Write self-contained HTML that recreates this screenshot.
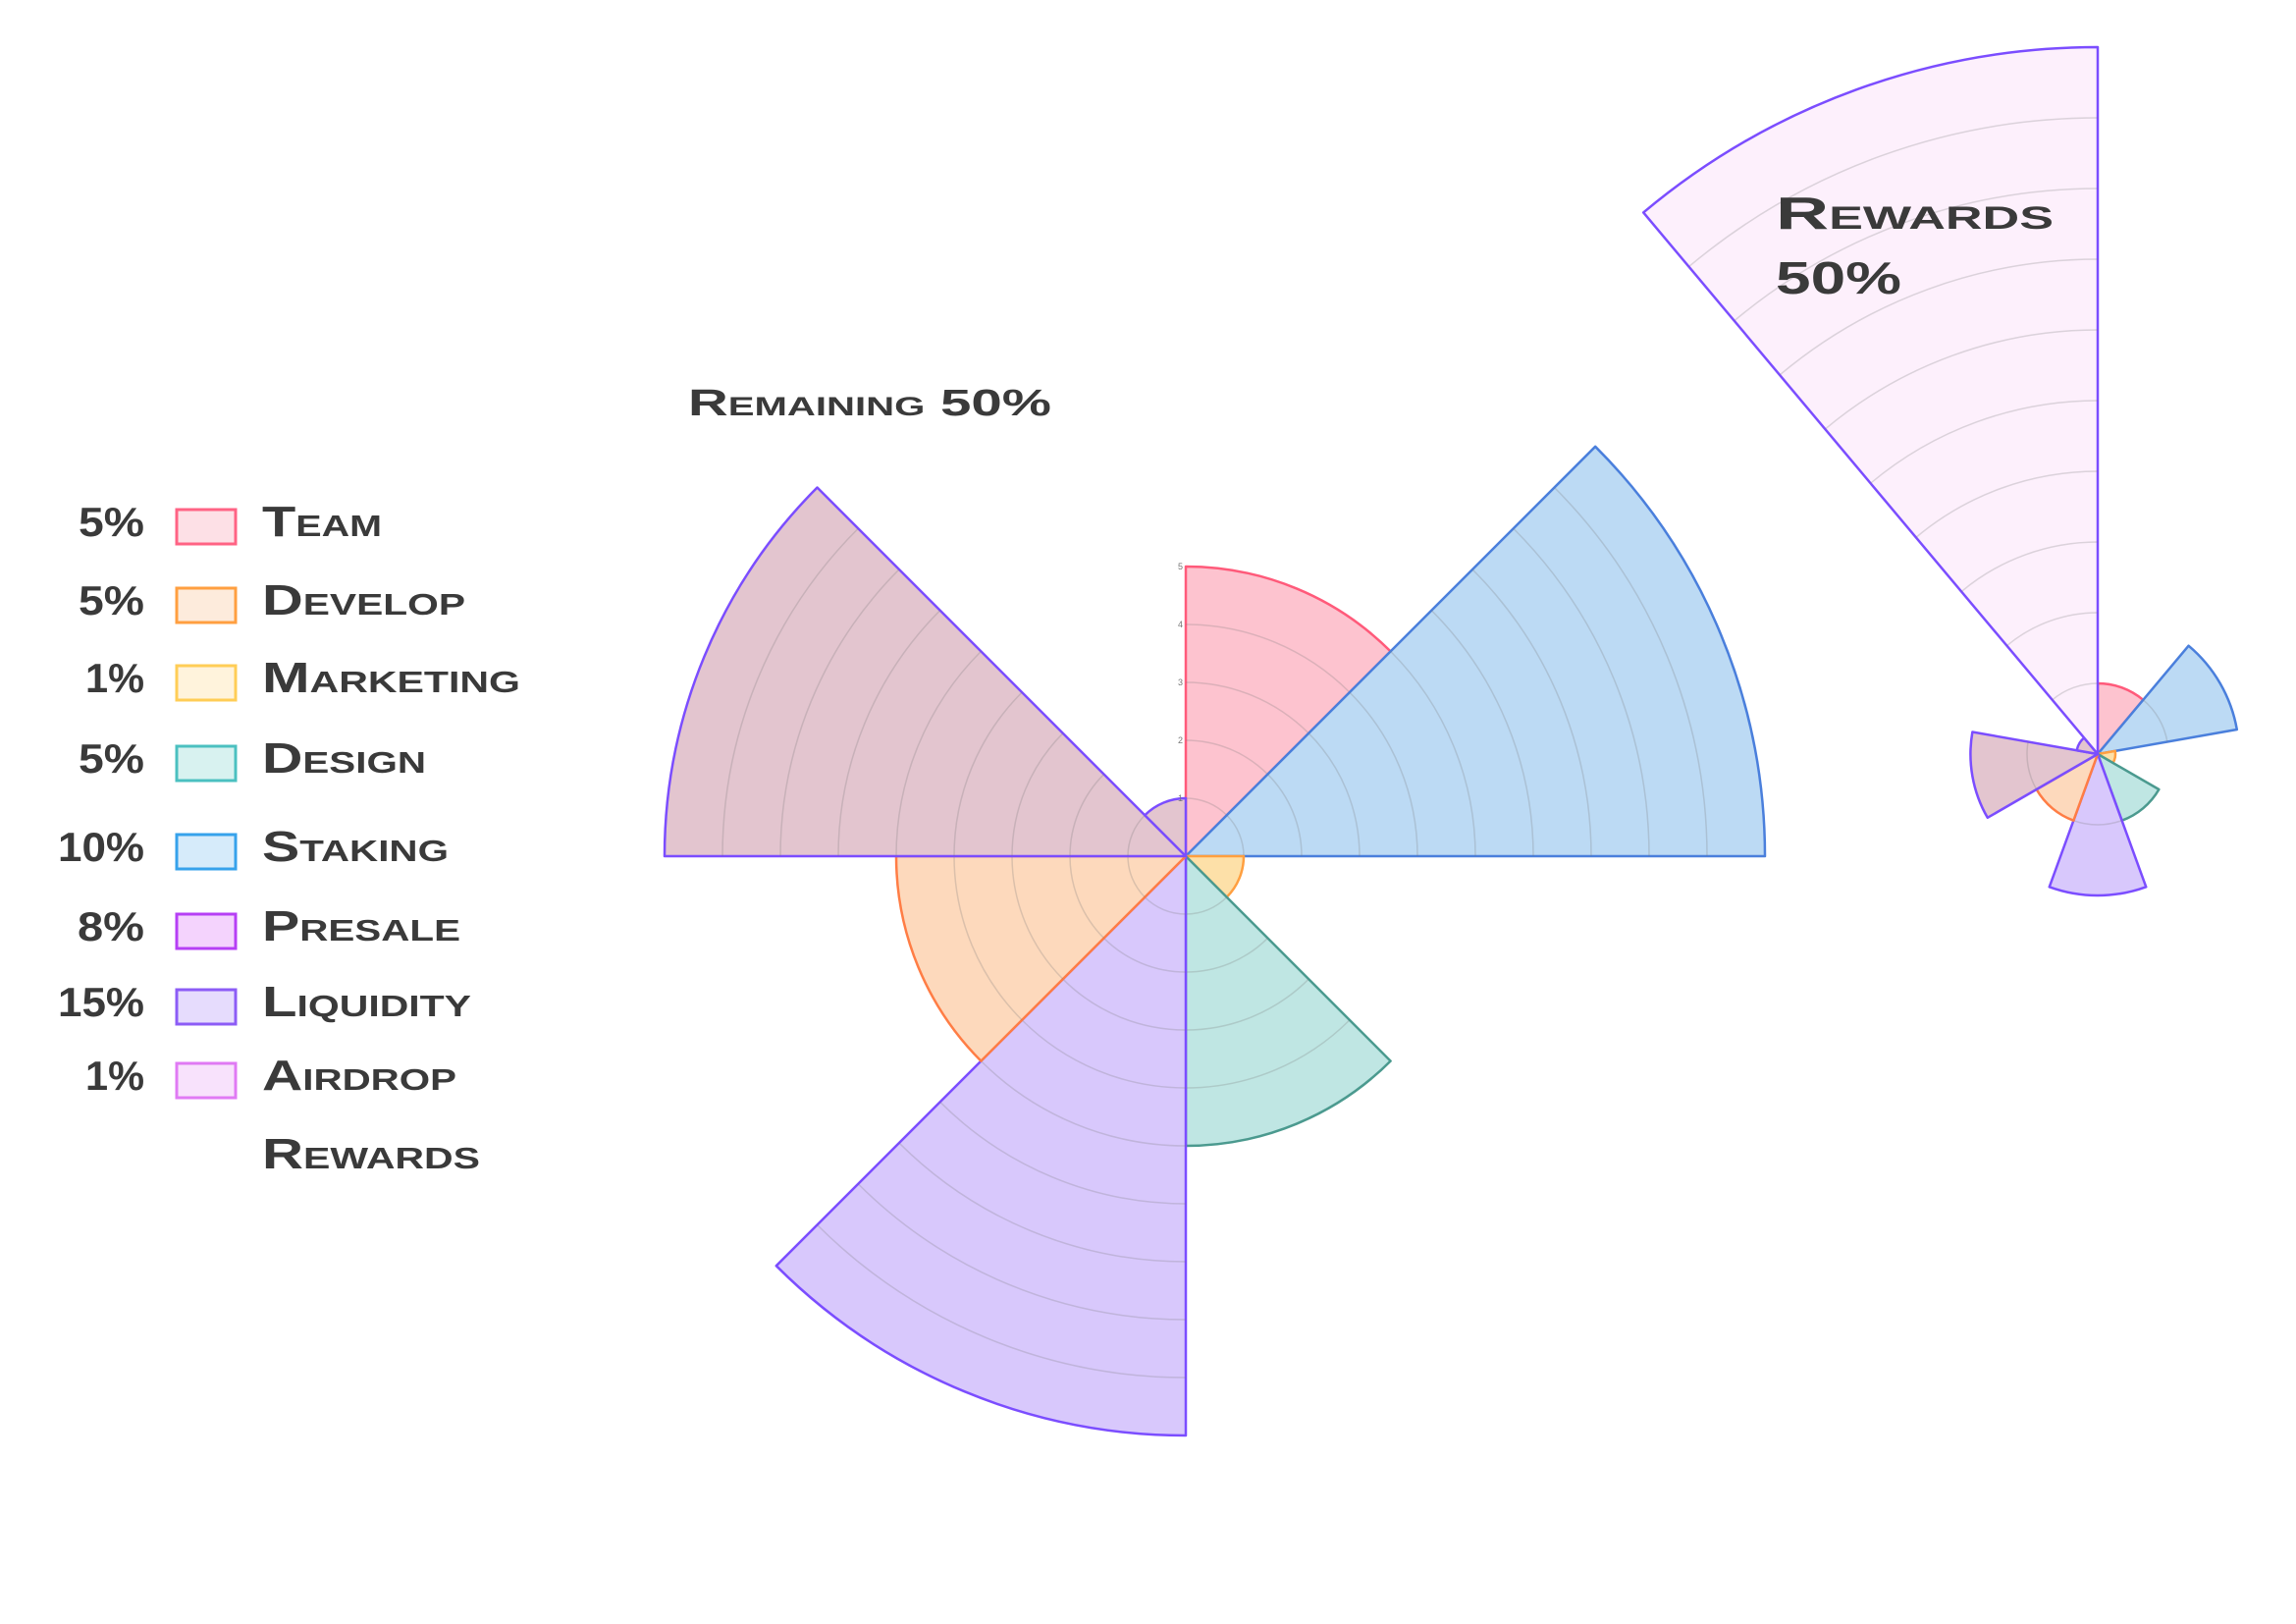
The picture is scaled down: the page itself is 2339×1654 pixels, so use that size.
<!DOCTYPE html>
<html><head><meta charset="utf-8">
<style>
html,body{margin:0;padding:0;background:#fff;}
svg{display:block;}
text{font-family:"Liberation Sans",sans-serif;font-weight:bold;font-variant:small-caps;fill:#3a3a3a;}
</style></head>
<body>
<svg id="chart" width="2339" height="1654" viewBox="0 0 2339 1654" xmlns="http://www.w3.org/2000/svg">
<g id="main"></g>
<g id="side"></g>
<g id="legend"></g>
<text x="701" y="423" font-size="38" textLength="370" lengthAdjust="spacingAndGlyphs">Remaining 50%</text>
<text x="1809" y="233" font-size="46" textLength="283" lengthAdjust="spacingAndGlyphs">Rewards</text>
<text x="1809" y="299" font-size="46" textLength="128" lengthAdjust="spacingAndGlyphs">50%</text>
</svg>
<script>
// main chart data
const mainCats = ["Team","Staking","Marketing","Design","Liquidity","Develop","Presale","Airdrop"];
const mainValues = [5,10,1,5,10,5,9,1];
const mainTicks = ["1","2","3","4","5"];
// side chart data
const sideCats = ["Team","Staking","Marketing","Design","Liquidity","Develop","Presale","Airdrop","Rewards"];
const sideValues = [1,2,0.25,1,2,1,1.8,0.3,10];
// legend data
const legendPercents = ["5%","5%","1%","5%","10%","8%","15%","1%",""];
const legendLabels = ["Team","Develop","Marketing","Design","Staking","Presale","Liquidity","Airdrop","Rewards"];

const styles = {
 Team:{f:"#fdc3cf",s:"#ff5a7a"}, Staking:{f:"#bcdaf4",s:"#4a7fdc"}, Marketing:{f:"#fde0a8",s:"#ff9f40"},
 Design:{f:"#bfe6e3",s:"#4b9a8f"}, Liquidity:{f:"#d8c8fc",s:"#7b4dff"}, Develop:{f:"#fdd9bc",s:"#ff7d45"},
 Presale:{f:"#e3c5cf",s:"#7b4dff"}, Airdrop:{f:"#e3c5cf",s:"#7b4dff"}, Rewards:{f:"#fdf0fc",s:"#7b4dff"}
};
const legendSw = {
 Team:["#fde0e6","#ff6384"],Develop:["#fdebdc","#ff9f40"],Marketing:["#fff3dc","#ffcd56"],Design:["#d8f2f0","#4bc0c0"],
 Staking:["#d6ebfa","#36a2eb"],Presale:["#f4d3fd","#b63ff5"],Liquidity:["#e6dcfd","#8c5cf6"],Airdrop:["#f8e2fc","#e07af4"]
};
const NS="http://www.w3.org/2000/svg";
function pt(cx,cy,r,a){const t=a*Math.PI/180;return [cx+r*Math.sin(t),cy-r*Math.cos(t)];}
function sectorPath(cx,cy,r,a0,a1){
 const p0=pt(cx,cy,r,a0),p1=pt(cx,cy,r,a1);
 return `M${cx},${cy}L${p0[0]},${p0[1]}A${r},${r} 0 0 1 ${p1[0]},${p1[1]}Z`;
}
function arcPath(cx,cy,r,a0,a1){
 const p0=pt(cx,cy,r,a0),p1=pt(cx,cy,r,a1);
 return `M${p0[0]},${p0[1]}A${r},${r} 0 0 1 ${p1[0]},${p1[1]}`;
}
function drawPolar(g,cats,vals,cx,cy,unit,sw){
 const n=cats.length, step=360/n;
 cats.forEach((c,i)=>{
  const a0=i*step,a1=(i+1)*step,r=vals[i]*unit;
  const st=styles[c];
  const p=document.createElementNS(NS,"path");
  p.setAttribute("d",sectorPath(cx,cy,r,a0,a1));
  p.setAttribute("fill",st.f);
  p.setAttribute("stroke",st.s);
  p.setAttribute("stroke-width",sw);
  p.setAttribute("stroke-linejoin","round");
  
  
  g.appendChild(p);
  for(let k=1;k<vals[i];k++){
   const ring=document.createElementNS(NS,"path");
   ring.setAttribute("d",arcPath(cx,cy,k*unit,a0,a1));
   ring.setAttribute("fill","none");
   ring.setAttribute("stroke","rgba(120,120,120,0.25)");
   ring.setAttribute("stroke-width","1.5");
   
   
   g.appendChild(ring);
  }
 });
}
const MCX=1208,MCY=872,MU=59;
drawPolar(document.getElementById("main"),mainCats,mainValues,MCX,MCY,MU,2.5);
mainTicks.forEach((t,i)=>{
 const tx=document.createElementNS(NS,"text");
 tx.setAttribute("x",MCX-3);tx.setAttribute("y",MCY-(i+1)*MU+3);
 tx.setAttribute("font-size","9");tx.setAttribute("text-anchor","end");
 tx.setAttribute("style","fill:#777;font-weight:normal");
 tx.textContent=t;
 
 
 document.getElementById("main").appendChild(tx);
});
drawPolar(document.getElementById("side"),sideCats,sideValues,2137,768,72,2.5);

// legend
const lg=document.getElementById("legend");
const rowsY=[546,626,705,787,877,958,1035,1110,1190];
const pctW={"5%":67,"10%":88,"15%":88,"1%":60,"8%":68};
const lblW={Team:122,Develop:207,Marketing:263,Design:167,Staking:190,Presale:202,Liquidity:213,Airdrop:198,Rewards:222};
legendLabels.forEach((l,i)=>{
 const y=rowsY[i];
 if(legendPercents[i]){
  const p=document.createElementNS(NS,"text");
  const w=pctW[legendPercents[i]];
  p.setAttribute("x",147-w);p.setAttribute("y",y);p.setAttribute("font-size","42");
  p.setAttribute("textLength",w);p.setAttribute("lengthAdjust","spacingAndGlyphs");
  p.textContent=legendPercents[i];
  
  
  lg.appendChild(p);
 }
 if(legendSw[l]){
  const r=document.createElementNS(NS,"rect");
  r.setAttribute("x",180);r.setAttribute("y",y-27);r.setAttribute("width",60);r.setAttribute("height",35);
  r.setAttribute("fill",legendSw[l][0]);r.setAttribute("stroke",legendSw[l][1]);r.setAttribute("stroke-width","3");
  
  
  lg.appendChild(r);
 }
 const t=document.createElementNS(NS,"text");
 t.setAttribute("x",267);t.setAttribute("y",y);t.setAttribute("font-size","44");
 t.setAttribute("textLength",lblW[l]);t.setAttribute("lengthAdjust","spacingAndGlyphs");
 t.textContent=l;
 
 
 lg.appendChild(t);
});
</script>
</body></html>
